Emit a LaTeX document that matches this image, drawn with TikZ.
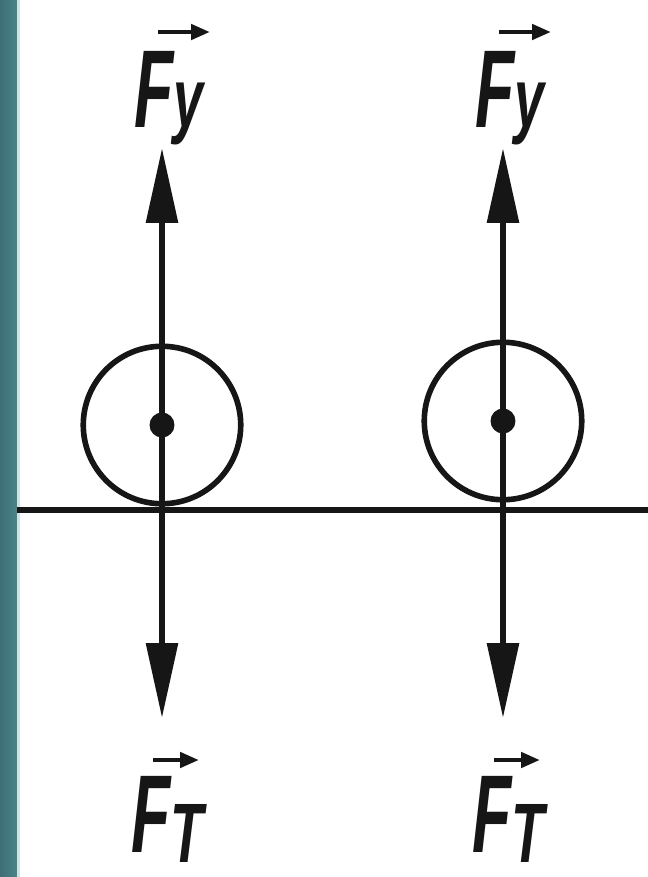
\documentclass[tikz,border=0pt]{standalone}
\usepackage{fontspec}
\setsansfont{Liberation Sans}
\usetikzlibrary{arrows.meta}
\definecolor{InkBlack}{RGB}{22,22,22}
\definecolor{BarTeal}{RGB}{72,132,134}
\definecolor{BarDark}{RGB}{62,110,120}
\definecolor{BarLight}{RGB}{200,228,230}
% force label: condensed slanted F with a subscript
\newcommand{\flabel}[2]{\scalebox{0.58}[1]{F}\raisebox{#2}{\scalebox{0.64}[1]{\fontsize{48}{48}\selectfont #1}}}
\tikzset{
  force/.style={-{Triangle[length=1.5cm,width=0.62cm]}, line width=3.4pt, color=InkBlack},
  vecarr/.style={-{Triangle[length=0.38cm,width=0.3cm]}, line width=2.6pt, color=InkBlack},
  ball/.style={circle, draw=InkBlack, line width=3.2pt, minimum size=3.15cm, inner sep=0pt},
  cdot/.style={circle, fill=InkBlack, minimum size=0.5cm, inner sep=0pt},
  lbl/.style={font=\sffamily\bfseries\itshape\fontsize{63}{63}\selectfont, text=InkBlack, inner sep=0pt},
  ground/.style={line width=3.6pt, color=InkBlack},
}
\begin{document}
\begin{tikzpicture}[x=0.02cm, y=-0.02cm]
  \useasboundingbox (0,0) rectangle (648,877);
  \shade[left color=BarDark, right color=BarTeal] (0,0) rectangle (17,877);
  \fill[BarLight] (17,0) rectangle (20,877);
  % ground line
  \coordinate (gl) at (17,510);
  \coordinate (gr) at (648,510);
  \draw[ground] (gl) -- (gr);
  % two balls with their forces
  \foreach \i/\x/\y in {1/162/425, 2/503/421}{
    \node[ball] (ball\i) at (\x,\y) {};
    \node[cdot] (c\i) at (\x,\y) {};
    \coordinate (up\i) at (\x,148);
    \coordinate (dn\i) at (\x,718);
    \draw[force] (c\i.center) -- (up\i);
    \draw[force] (c\i.center) -- (dn\i);
    \node[lbl, anchor=base west] (fy\i) at (\x-28,127) {\flabel{y}{0pt}};
    \node[lbl, anchor=base west] (ft\i) at (\x-31,852) {\flabel{T}{-0.2cm}};
    \draw[vecarr] ([shift={(24,-95)}]fy\i.base west) -- ([shift={(76,-95)}]fy\i.base west);
    \draw[vecarr] ([shift={(22,-92)}]ft\i.base west) -- ([shift={(68,-92)}]ft\i.base west);
  }
\end{tikzpicture}
\end{document}
